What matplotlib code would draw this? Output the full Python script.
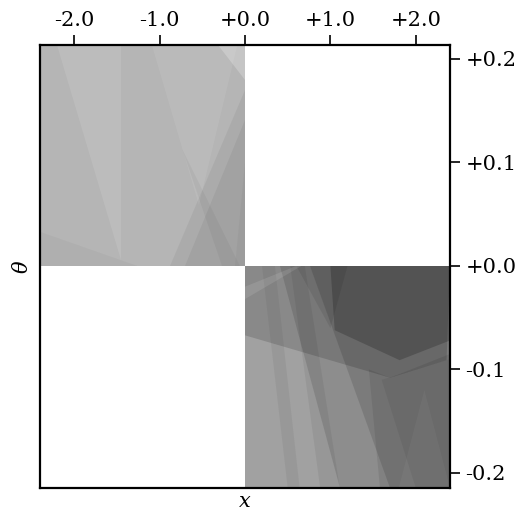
import matplotlib
matplotlib.use("Agg")
import matplotlib.pyplot as plt
from matplotlib.patches import Polygon, Rectangle
from matplotlib.ticker import FixedLocator, FuncFormatter

# axis extent and ticks
x_lim = (-2.4, 2.4)
theta_lim = (-0.2145, 0.2135)
x_ticks = [-2.0, -1.0, 0.0, 1.0, 2.0]
theta_ticks = [-0.2, -0.1, 0.0, 0.1, 0.2]

# quadrant fills: (x0, x1, theta0, theta1) and base gray level
quad_boxes = [(-2.4, 0.0, 0.0, 0.2135), (0.0, 2.4, -0.2145, 0.0)]
quad_gray = [0.71, 0.63]

# overlapping translucent pieces, upper-left quadrant (x, theta)
ul_polys = [
    [(-2.20, 0.2135), (-1.45, 0.2135), (-1.45, 0.006)],
    [(-1.09, 0.2135), (-0.09, 0.2135), (-0.54, 0.059)],
    [(-0.32, 0.2135), (0.0, 0.2135), (0.0, 0.18)],
    [(-0.88, 0.0), (0.0, 0.0), (0.0, 0.170)],
    [(-0.70, 0.0), (0.0, 0.0), (0.0, 0.141)],
    [(-0.73, 0.112), (-0.27, 0.0), (-0.06, 0.0)],
    [(-2.40, 0.033), (-1.26, 0.0), (-2.40, 0.0)],
    [(-0.12, 0.0), (0.0, 0.0), (0.0, 0.10)],
]
ul_white = [True, True, True, False, False, False, False, False]
ul_alpha = [0.10, 0.08, 0.22, 0.05, 0.05, 0.04, 0.03, 0.03]

# overlapping translucent pieces, lower-right quadrant
lr_polys = [
    [(0.41, 0.0), (2.40, 0.0), (2.40, -0.2145), (1.11, -0.2145)],
    [(0.76, 0.0), (2.40, 0.0), (2.40, -0.2145), (1.70, -0.2145)],
    [(0.0, 0.0), (2.40, 0.0), (2.36, -0.091), (1.70, -0.108), (0.0, -0.067)],
    [(0.60, 0.0), (1.20, 0.0), (1.00, -0.06)],
    [(1.00, 0.0), (2.40, 0.0), (2.40, -0.072), (1.81, -0.091), (1.05, -0.062)],
    [(1.45, -0.100), (1.70, -0.108), (2.40, -0.085), (2.40, -0.2145),
     (1.58, -0.2145)],
    [(1.60, -0.110), (2.40, -0.090), (2.40, -0.2145), (2.00, -0.2145)],
    [(0.53, 0.0), (0.70, 0.0), (1.11, -0.2145), (0.88, -0.2145)],
    [(0.20, 0.0), (0.35, 0.0), (0.64, -0.2145), (0.50, -0.2145)],
    [(0.0, -0.02), (0.60, 0.0), (0.66, 0.0), (0.0, -0.032)],
    [(1.80, -0.2145), (2.40, -0.2145), (2.10, -0.12)],
]
lr_white = [False, False, False, False, False, False, False, False, False,
            True, True]
lr_alpha = [0.12, 0.12, 0.15, 0.08, 0.20, 0.08, 0.06, 0.06, 0.05,
            0.10, 0.04]


def main():
    plt.rcParams["font.family"] = "DejaVu Serif"
    plt.rcParams["mathtext.fontset"] = "dejavuserif"

    fig = plt.figure(figsize=(5.21, 5.16), dpi=100)
    ax = fig.add_axes([0.0768, 0.0543, 0.7869, 0.8585])

    groups = [(ul_polys, ul_white, ul_alpha), (lr_polys, lr_white, lr_alpha)]
    for box, gray, (polys, white, alpha) in zip(quad_boxes, quad_gray, groups):
        x0, x1, t0, t1 = box
        clip = Rectangle((x0, t0), x1 - x0, t1 - t0, transform=ax.transData)
        ax.add_patch(Rectangle((x0, t0), x1 - x0, t1 - t0,
                               facecolor=str(gray), edgecolor="none"))
        for verts, w, a in zip(polys, white, alpha):
            p = Polygon(verts, closed=True, facecolor="white" if w else "black",
                        edgecolor="none", alpha=a)
            ax.add_patch(p)
            p.set_clip_path(clip)

    ax.set_xlim(*x_lim)
    ax.set_ylim(*theta_lim)

    ax.xaxis.tick_top()
    ax.yaxis.tick_right()
    ax.xaxis.set_major_locator(FixedLocator(x_ticks))
    ax.yaxis.set_major_locator(FixedLocator(theta_ticks))
    ax.xaxis.set_major_formatter(FuncFormatter(lambda v, pos: "%+.1f" % v))
    ax.yaxis.set_major_formatter(FuncFormatter(lambda v, pos: "%+.1f" % v))
    ax.tick_params(direction="out", length=7, width=1.2, labelsize=15, pad=4)

    ax.set_xlabel("$x$", fontsize=15, labelpad=3)
    ax.set_ylabel(r"$\theta$", fontsize=15, labelpad=6)
    ax.xaxis.set_label_position("bottom")
    ax.yaxis.set_label_position("left")

    for s in ax.spines.values():
        s.set_linewidth(1.6)

    fig.savefig("out.png", dpi=100)


if __name__ == "__main__":
    main()
